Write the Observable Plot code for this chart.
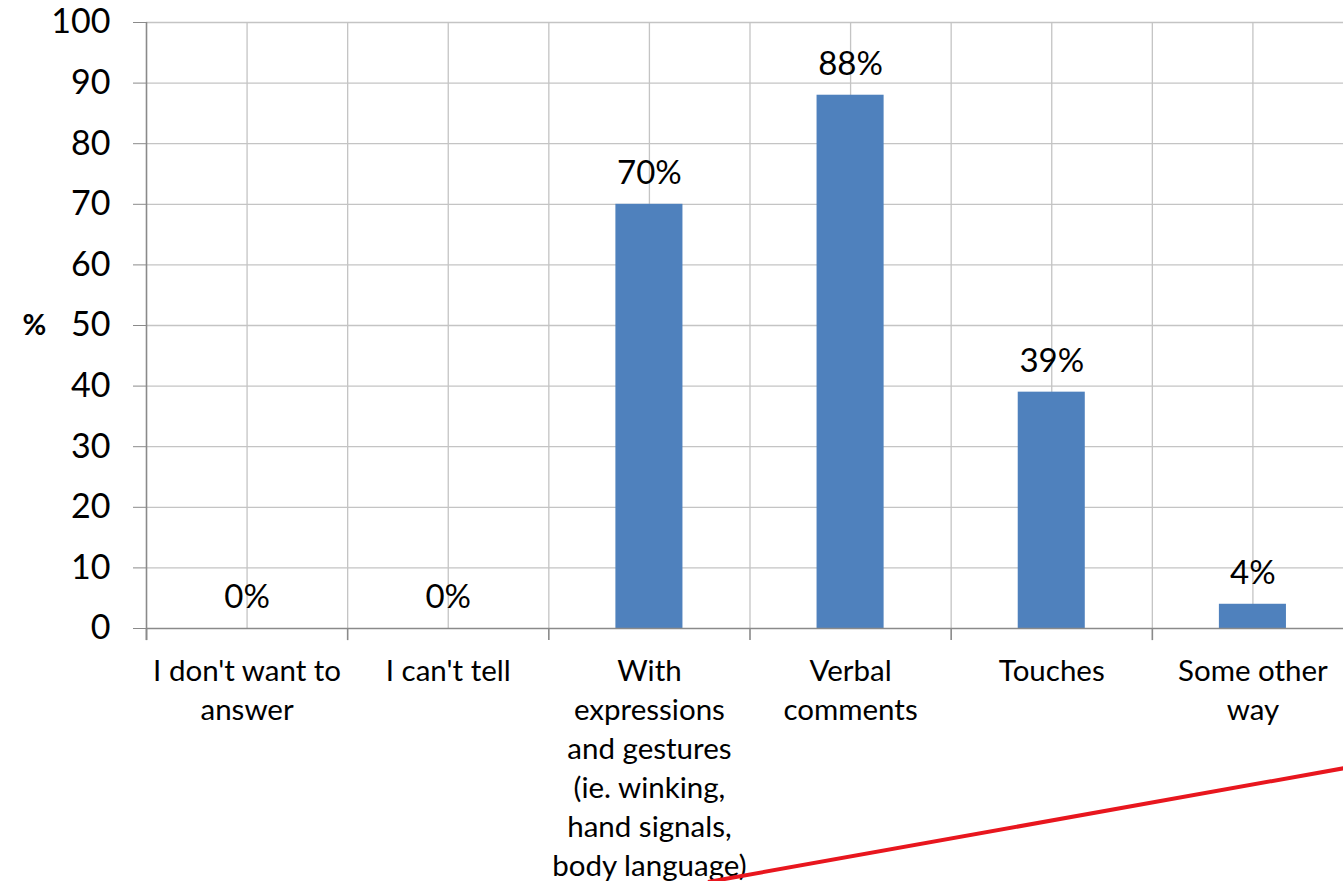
<!DOCTYPE html>
<html>
<head>
<meta charset="utf-8">
<script src="https://cdn.jsdelivr.net/npm/d3@7"></script>
<script src="https://cdn.jsdelivr.net/npm/@observablehq/plot@0.6"></script>
<style>
  html, body { margin: 0; padding: 0; background: #fff; overflow: hidden; }
  #wrap { position: relative; width: 1343px; height: 881px; overflow: hidden; }
  #wrap svg.plot { position: absolute; left: 0; top: 0; overflow: hidden; }
  #deco { position: absolute; left: 0; top: 0; pointer-events: none; }
</style>
</head>
<body>
<div id="wrap"></div>
<script>
const categories = [
  "I don't want to\nanswer",
  "I can't tell",
  "With\nexpressions\nand gestures\n(ie. winking,\nhand signals,\nbody language)",
  "Verbal\ncomments",
  "Touches",
  "Some other\nway"
];
const values = [0, 0, 70, 88, 39, 4];
const valueLabels = ["0%", "0%", "70%", "88%", "39%", "4%"];
const yTicks = [0, 10, 20, 30, 40, 50, 60, 70, 80, 90, 100];
const yLabel = "%";

const data = categories.map((c, i) => ({cat: c, idx: i, value: values[i], label: valueLabels[i]}));
const halfPositions = d3.range(0, categories.length * 2 + 1).map(k => k / 2);
const boundaries = d3.range(0, categories.length + 1);

const FONT = "Lato, 'Open Sans', sans-serif";
const grid = "#c4c4c4";
const axisColor = "#8a8a8a";

const chart = Plot.plot({
  width: 1343,
  height: 881,
  marginLeft: 146,
  marginTop: 22,
  marginBottom: 253,
  marginRight: 0,
  style: {fontFamily: FONT, background: "#fff", overflow: "hidden"},
  x: {type: "linear", domain: [0, categories.length], range: [146, 1353], axis: null},
  y: {domain: [0, 100], axis: null},
  marks: [
    Plot.ruleY(yTicks.slice(1), {stroke: grid, strokeWidth: 1.3}),
    Plot.ruleX(halfPositions.slice(1), {y1: 0, y2: 100, stroke: grid, strokeWidth: 1.3}),
    Plot.rectY(data, {x1: d => d.idx + 1/3, x2: d => d.idx + 2/3, y1: 0, y2: "value", fill: "#4F81BD"}),
    Plot.ruleY([0], {stroke: axisColor, strokeWidth: 1.6}),
    Plot.ruleX(boundaries, {y1: -2, y2: 0, stroke: axisColor, strokeWidth: 1.6}),
    Plot.ruleX([0], {y1: -2, y2: 100, stroke: axisColor, strokeWidth: 1.6}),
    Plot.axisY({ticks: yTicks, label: null, tickSize: 13, tickPadding: 23, fontSize: 34, stroke: axisColor, fill: "#000", tickFormat: d => String(d)}),
    Plot.text(data, {x: d => d.idx + 0.5, y: "value", text: "label", dy: -31, fontSize: 33, fill: "#000", lineAnchor: "middle"}),
    Plot.text(data, {x: d => d.idx + 0.5, y: 0, text: "cat", dy: 25, lineAnchor: "top", fontSize: 29.5, lineHeight: 1.32, fill: "#000"}),
    Plot.text([yLabel], {frameAnchor: "left", dx: -124, fontSize: 29, fontWeight: "bold", fill: "#000"})
  ]
});
chart.classList.add("plot");
const wrap = document.getElementById("wrap");
wrap.appendChild(chart);

const ns = "http://www.w3.org/2000/svg";
const deco = document.createElementNS(ns, "svg");
deco.setAttribute("id", "deco");
deco.setAttribute("width", 1343);
deco.setAttribute("height", 881);
const ln = document.createElementNS(ns, "line");
ln.setAttribute("x1", 708); ln.setAttribute("y1", 882);
ln.setAttribute("x2", 1345); ln.setAttribute("y2", 768);
ln.setAttribute("stroke", "#e8161e"); ln.setAttribute("stroke-width", 4);
deco.appendChild(ln);
wrap.appendChild(deco);
</script>
</body>
</html>
